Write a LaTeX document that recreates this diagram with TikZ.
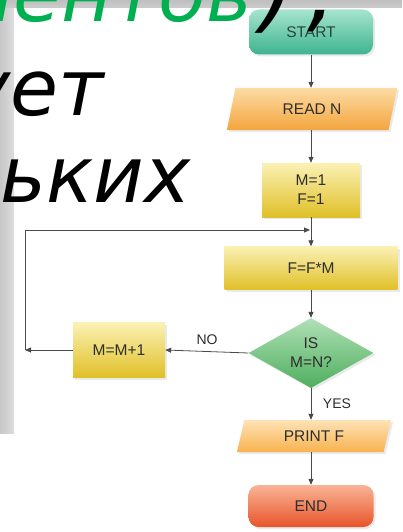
\documentclass[tikz,border=0pt]{standalone}
\usepackage{fontspec}
\setmainfont{Liberation Sans}
\newfontfamily\slidefont{DejaVu Sans}
\usetikzlibrary{shapes.geometric,arrows.meta,shadows}

\definecolor{slidegreen}{HTML}{00B050}
\definecolor{labelgray}{HTML}{2E2E2E}
\definecolor{linegray}{HTML}{4A4A4A}
\definecolor{tealtop}{HTML}{A6E4CE}
\definecolor{tealbot}{HTML}{3DB48E}
\definecolor{tealtext}{HTML}{2A4640}
\definecolor{redtop}{HTML}{F9B496}
\definecolor{redbot}{HTML}{E8542A}
\definecolor{yeltop}{HTML}{FBF1B4}
\definecolor{yelbot}{HTML}{E0C028}
\definecolor{greentop}{HTML}{B0E0B6}
\definecolor{greenbot}{HTML}{4FAE5E}
\definecolor{orangetop}{HTML}{FCDBA4}
\definecolor{orangebot}{HTML}{F4A53E}
\definecolor{paletop}{HTML}{FDE2B6}
\definecolor{palebot}{HTML}{F7B24E}

\tikzset{
  box/.style={font=\fontsize{15.5}{19}\selectfont, text=labelgray, align=center,
    inner sep=0pt, drop shadow={shadow xshift=2pt, shadow yshift=-2pt, opacity=.16}},
  terminal/.style={box, rounded corners=10pt},
  startbox/.style={terminal, top color=tealtop, bottom color=tealbot, text=tealtext},
  endbox/.style={terminal, top color=redtop, bottom color=redbot},
  iobox/.style={box, trapezium, trapezium stretches=true,
    trapezium left angle=73, trapezium right angle=107},
  procbox/.style={box, top color=yeltop, bottom color=yelbot},
  decbox/.style={box, diamond, aspect=1.8, top color=greentop, bottom color=greenbot},
  flow/.style={draw=linegray, line width=0.8pt,
    -{Triangle[length=6pt,width=5pt]}},
  lbl/.style={font=\fontsize{14}{16}\selectfont, text=labelgray, inner sep=0pt},
  slidetext/.style={font=\slidefont\itshape\fontsize{78}{78}\selectfont, inner sep=0pt}
}

\begin{document}
\begin{tikzpicture}[x=1pt,y=-1pt]
\useasboundingbox (0,0) rectangle (402,532);
% slide background
\fill[white] (0,0) rectangle (402,532);
\shade[left color=black!22, right color=black!13] (0,0) rectangle (14,433);
\shade[top color=black!25, bottom color=black!20] (0,0) rectangle (402,8);

% flowchart nodes
\node[startbox, minimum width=124pt, minimum height=45pt] (start) at (311,32) {START};
\node[iobox, top color=orangetop, bottom color=orangebot,
      minimum width=171pt, minimum height=42pt] (read) at (312,109) {READ N};
\node[procbox, minimum width=98pt, minimum height=54pt] (init) at (311,190) {M=1\\F=1};
\node[procbox, minimum width=173pt, minimum height=43pt] (calc) at (311,268) {F=F*M};
\node[decbox, minimum width=125pt, minimum height=70pt] (test) at (311,353) {IS\\M=N?};
\node[procbox, minimum width=92pt, minimum height=55pt] (inc) at (119,350) {M=M+1};
\node[iobox, top color=paletop, bottom color=palebot,
      minimum width=155pt, minimum height=32pt] (print) at (314,436) {PRINT F};
\node[endbox, minimum width=125pt, minimum height=42pt] (stop) at (311,506) {END};

% connectors
\coordinate (join) at (310,230);
\coordinate (loopB) at (25,350);
\coordinate (loopT) at (25,230);

\draw[flow] (start.south) -- (start.south |- read.north);
\draw[flow] (start.south |- read.south) -- (init.north);
\draw[flow] (init.south) -- (calc.north);
\draw[flow] (calc.south) -- (test.north);
\draw[flow] (test.west) -- (inc.east);
\draw[flow] (inc.west) -- (loopB);
\draw[flow] (loopB) -- (loopT) -- (join);
\draw[flow] (test.south) -- (test.south |- print.north);
\draw[flow] (test.south |- print.south) -- (stop.north);

% branch labels
\node[lbl] (no) at (207,340) {NO};
\node[lbl] (yes) at (337,404) {YES};

% slide text, lying over the chart
\node[slidetext, anchor=base east] (line1) at (336,22)
  {\textcolor{slidegreen}{ментов}\kern8pt{\fontsize{90}{90}\selectfont)\kern12pt,}};
\node[slidetext, anchor=base east] (line2) at (104,115) {ует};
\node[slidetext, anchor=base east] (line3) at (191,202) {льких};
\end{tikzpicture}
\end{document}
